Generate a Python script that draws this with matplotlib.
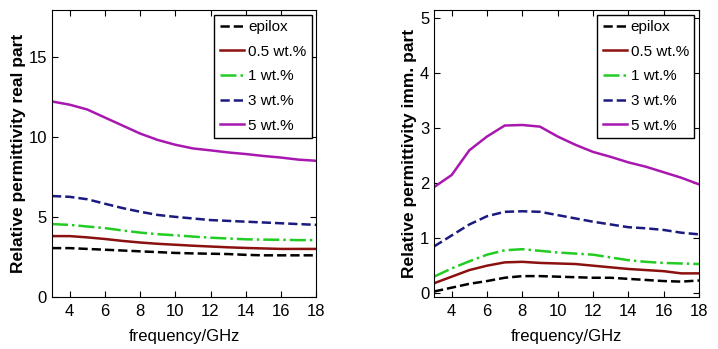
import numpy as np
import matplotlib
matplotlib.use('Agg')
from matplotlib import pyplot as plt

plt.rcParams['font.family'] = ['Liberation Sans', 'DejaVu Sans']

freq = [3, 4, 5, 6, 7, 8, 9, 10, 11, 12, 13, 14, 15, 16, 17, 18]
labels = ['epilox', '0.5 wt.%', '1 wt.%', '3 wt.%', '5 wt.%']

# real part
real_epilox = [3.05, 3.05, 3.0, 2.95, 2.9, 2.85, 2.8, 2.75, 2.72, 2.7, 2.68, 2.63, 2.6, 2.6, 2.6, 2.6]
real_05 = [3.8, 3.8, 3.72, 3.62, 3.5, 3.4, 3.32, 3.26, 3.2, 3.15, 3.1, 3.06, 3.03, 3.0, 3.0, 3.0]
real_1 = [4.55, 4.5, 4.4, 4.3, 4.15, 4.02, 3.92, 3.85, 3.77, 3.7, 3.65, 3.6, 3.58, 3.57, 3.55, 3.55]
real_3 = [6.3, 6.25, 6.1, 5.82, 5.55, 5.32, 5.12, 5.0, 4.9, 4.8, 4.75, 4.7, 4.65, 4.6, 4.55, 4.5]
real_5 = [12.2, 12.0, 11.7, 11.2, 10.7, 10.2, 9.8, 9.5, 9.27, 9.15, 9.02, 8.92, 8.8, 8.7, 8.57, 8.5]

# imaginary part
imm_epilox = [0.03, 0.1, 0.17, 0.22, 0.28, 0.31, 0.31, 0.3, 0.29, 0.28, 0.28, 0.26, 0.24, 0.22, 0.21, 0.23]
imm_05 = [0.18, 0.3, 0.42, 0.5, 0.56, 0.57, 0.55, 0.54, 0.53, 0.5, 0.47, 0.44, 0.42, 0.4, 0.36, 0.36]
imm_1 = [0.3, 0.45, 0.58, 0.7, 0.78, 0.8, 0.77, 0.74, 0.72, 0.7, 0.65, 0.6, 0.57, 0.55, 0.54, 0.53]
imm_3 = [0.85, 1.05, 1.25, 1.4, 1.48, 1.49, 1.48, 1.42, 1.36, 1.3, 1.25, 1.2, 1.18, 1.15, 1.1, 1.07]
imm_5 = [1.93, 2.15, 2.6, 2.85, 3.05, 3.06, 3.03, 2.85, 2.7, 2.57, 2.48, 2.38, 2.3, 2.2, 2.1, 1.98]

colors = ['black', '#8b1010', '#22cc22', '#1a1a80', '#a818b0']
styles = ['--', '-', '-.', '--', '-']

fig = plt.figure(figsize=(7.18, 3.49), dpi=100)
ax1 = fig.add_axes([0.0724, 0.149, 0.368, 0.822])
ax2 = fig.add_axes([0.6045, 0.149, 0.369, 0.822])


def draw(ax, series, ylabel):
    for y, c, s, l in zip(series, colors, styles, labels):
        ax.plot(freq, y, color=c, linestyle=s, linewidth=1.8, label=l)
    ax.set_xlim(3, 18)
    ax.set_xticks(range(4, 19, 2))
    ax.tick_params(direction='in', top=True, right=True, labelsize=12, length=4)
    ax.tick_params(axis='x', pad=5)
    ax.set_xlabel('frequency/GHz', fontsize=12, labelpad=7)
    ax.set_ylabel(ylabel, fontsize=12.5, fontweight='bold', labelpad=2)
    leg = ax.legend(loc='upper right', fontsize=11, fancybox=False, framealpha=1,
                    edgecolor='black', handlelength=1.6, handletextpad=0.25,
                    labelspacing=0.7, borderpad=0.35, borderaxespad=0.3)
    leg.get_frame().set_linewidth(1.0)


draw(ax1, [real_epilox, real_05, real_1, real_3, real_5], 'Relative permittivity real part')
ax1.set_ylim(0, 17.9)
ax1.set_yticks([0, 5, 10, 15])

draw(ax2, [imm_epilox, imm_05, imm_1, imm_3, imm_5], 'Relative permittivity imm. part')
ax2.set_ylim(-0.07, 5.15)
ax2.set_yticks([0, 1, 2, 3, 4, 5])

fig.savefig('out.png', dpi=100)
